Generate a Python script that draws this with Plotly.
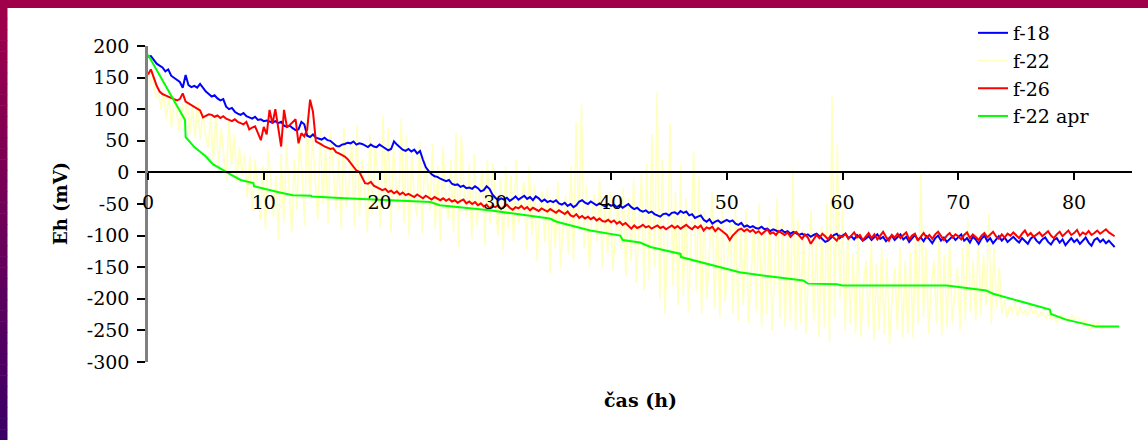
import plotly.graph_objects as go

STEP = 0.25  # h, sampling interval of the measured series

f18 = [183, 184, 178, 172, 169, 166, 160, 163, 153, 150, 146, 143, 134, 154, 138, 135, 137, 134, 140, 133,
       128, 124, 120, 122, 117, 114, 116, 104, 100, 102, 96, 93, 91, 94, 89, 87, 85, 88, 83, 84,
       81, 82, 80, 79, 81, 78, 80, 74, 72, 74, 70, 67, 68, 80, 76, 58, 56, 60, 55, 54,
       52, 55, 51, 50, 46, 42, 41, 44, 45, 47, 46, 49, 44, 46, 45, 42, 40, 44, 41, 40,
       44, 41, 38, 35, 37, 49, 44, 40, 36, 34, 37, 33, 36, 30, 34, 20, 8, 2, -3, -6,
       -7, -10, -12, -14, -12, -18, -20, -19, -23, -21, -25, -24, -26, -22, -25, -30, -28, -22, -26, -35,
       -40, -44, -41, -43, -40, -45, -42, -38, -43, -40, -37, -42, -39, -44, -38, -41, -46, -43, -47, -45,
       -47, -44, -49, -51, -48, -53, -50, -55, -52, -46, -44, -48, -50, -46, -49, -52, -49, -51, -54, -50,
       -53, -51, -55, -52, -56, -53, -50, -55, -58, -56, -60, -62, -60, -64, -62, -66, -68, -70, -66, -65,
       -68, -64, -63, -66, -61, -64, -62, -68, -66, -72, -70, -68, -75, -78, -74, -81, -78, -76, -80, -77,
       -75, -78, -76, -81, -83, -80, -86, -84, -87, -85, -88, -89, -86, -90, -89, -93, -90, -92, -94, -91,
       -95, -93, -97, -94, -96, -99, -97, -100, -98, -102, -99, -97, -101, -106, -110, -108, -103, -99, -97, -104,
       -100, -97, -104, -101, -106, -99, -103, -108, -105, -101, -107, -103, -98, -105, -102, -109, -104, -100, -107, -103,
       -98, -106, -102, -110, -104, -99, -107, -103, -109, -101, -106, -112, -104, -100, -108, -103, -110, -105, -101, -107,
       -103, -98, -108, -104, -111, -102, -106, -113, -105, -100, -109, -104, -112, -106, -101, -108, -103, -110, -106, -102,
       -107, -111, -104, -109, -113, -105, -101, -108, -112, -106, -103, -110, -114, -107, -104, -111, -106, -115, -109, -104,
       -110, -106, -113, -108, -103, -111, -116, -107, -104, -110, -106, -112, -108, -113, -118]

f26 = [155, 163, 150, 137, 128, 124, 122, 120, 119, 117, 114, 116, 125, 112, 109, 106, 103, 100, 98, 87,
       90, 92, 91, 88, 90, 86, 89, 85, 83, 81, 84, 80, 78, 76, 80, 68, 71, 73, 62, 51,
       72, 60, 99, 77, 100, 72, 41, 99, 72, 75, 80, 84, 46, 62, 57, 68, 115, 96, 49, 47,
       44, 41, 39, 37, 38, 32, 30, 28, 25, 21, 15, 9, 3, 1, -8, -17, -18, -15, -21, -23,
       -25, -28, -26, -31, -29, -33, -30, -35, -32, -36, -34, -37, -39, -35, -38, -41, -37, -40, -43, -39,
       -42, -44, -41, -45, -42, -46, -44, -48, -45, -43, -49, -46, -50, -47, -52, -49, -54, -51, -57, -53,
       -55, -52, -58, -54, -51, -56, -59, -55, -57, -53, -58, -55, -60, -56, -58, -61, -57, -60, -62, -58,
       -61, -64, -60, -63, -66, -62, -68, -70, -66, -72, -69, -73, -70, -74, -71, -76, -73, -77, -78, -75,
       -79, -76, -81, -78, -83, -80, -85, -89, -84, -88, -86, -83, -87, -85, -89, -86, -84, -88, -86, -90,
       -87, -84, -88, -85, -89, -86, -83, -87, -90, -85, -88, -84, -92, -87, -89, -86, -93, -88, -91, -95,
       -99, -107, -100, -95, -91, -89, -93, -90, -94, -91, -96, -93, -98, -94, -90, -97, -95, -99, -93, -96,
       -99, -95, -102, -97, -94, -100, -105, -98, -103, -113, -106, -99, -104, -97, -101, -106, -99, -103, -108, -100,
       -102, -97, -105, -100, -95, -103, -99, -107, -101, -96, -104, -98, -106, -100, -94, -102, -108, -99, -103, -97,
       -104, -99, -95, -106, -100, -97, -108, -102, -96, -103, -99, -105, -98, -94, -101, -107, -100, -96, -103, -98,
       -101, -106, -99, -95, -104, -98, -102, -107, -100, -96, -103, -99, -94, -101, -105, -98, -103, -97, -100, -95,
       -99, -104, -97, -92, -100, -96, -102, -98, -95, -101, -97, -93, -100, -104, -98, -94, -101, -97, -92, -99,
       -96, -91, -100, -95, -98, -93, -99, -96, -92, -97, -94, -90, -95, -98, -101]

f22 = [160, 140, 155, 118, 125, 100, 128, 85, 120, 70, 118, 95, 65, 110, 80, 115, 60, 105, 55, 112,
       52, 95, 60, 40, 88, 20, 92, 5, 70, 30, -12, 85, 10, 60, -15, 40, -5, 30, -40, 25,
       -60, 20, -20, -75, 10, -90, 35, -10, -70, -5, -107, 30, -80, 45, -30, -95, 20, -60, 50, 0,
       -85, 88, -40, 60, -10, -75, 70, -50, 40, -80, 65, 10, -60, 30, -90, 72, -55, -20, 50, -85,
       75, -70, 20, -30, -95, 60, -65, 45, 0, -88, 90, -50, 70, -95, 40, -20, -60, 85, -80, 57,
       -100, 30, -40, -70, 49, -97, 25, -10, -60, 45, -90, 10, -110, 40, -40, -75, 20, -95, 62, -118,
       57, -20, -70, 15, -105, 30, -85, -30, 5, -115, 20, -80, 14, -40, -100, -10, -123, 10, -90, -5,
       -110, 20, -80, -40, -15, -123, 10, -100, -20, -140, -60, -30, -110, -25, -160, -40, -120, -15, -150, -80,
       -35, -130, 10, -140, 80, -90, 107, -120, -20, -150, -70, -35, -110, -10, -150, -45, -130, -30, -155, -100,
       -50, -120, -25, -165, -40, -140, -10, -175, -80, -2, -187, 14, -171, 60, -150, 128, -200, 20, -224, -100,
       78, -180, -30, -210, 10, -195, -40, -220, -110, 33, -190, -7, -224, -60, -200, -130, -30, -215, -70, -230,
       -45, -205, -140, -80, -224, -55, -235, -90, -210, -60, -240, -150, -85, -220, -50, -245, -95, -225, -70, -250,
       -160, -40, -230, -80, -245, -100, -235, 4, -250, -75, -240, -90, -255, -150, -60, -235, -110, -261, -85, -245,
       -50, -269, 120, -230, 45, -200, -60, -250, -100, -240, -130, -255, -95, -260, -180, -140, -245, -110, -265, -145,
       -250, -120, -255, -135, -271, -200, -150, -250, -118, -262, -140, -255, -125, -261, -100, -240, 1, -230, -120, -255,
       -180, -140, -240, -95, -258, -130, -245, -110, -239, -190, -150, -250, -120, -235, -76, -220, -140, -235, -100, -225,
       -130, -210, -65, -240, -120, -215, -150, -224, -200, -230, -211, -222, -205, -228, -213, -224, -218, -226, -212, -224,
       -217, -229, -221, -225, -231, -220, -234, -227, -238, -230, -225, -233, -229, -236, -226, -232, -229, -235, -240, -232,
       -245, -250, -238, -244, -236, -248, -242, -246, -245]

apr_t = [0, 3.2, 3.25, 4.0, 5.0, 5.6, 7.2, 8.0, 9.1, 9.15, 11.2, 12.5, 14.1, 14.15, 17.0, 21.3, 24.4, 25.2,
         29.5, 34.7, 35.3, 38.2, 40.8, 41.0, 42.5, 43.4, 46.0, 46.05, 48.8, 51.1, 53.1, 56.6, 57.0, 59.5,
         60.0, 69.0, 72.4, 73.0, 77.9, 78.0, 79.3, 81.9, 83.9]
apr_v = [186, 83, 56, 40, 25, 13, -4, -12, -17, -22, -31, -36, -37, -38, -41, -44, -47, -52,
         -60, -73, -78, -92, -100, -107, -111, -118, -129, -134, -147, -158, -163, -171, -176, -177,
         -179, -179, -187, -192, -217, -224, -233, -244, -244]

x_ticks = [0, 10, 20, 30, 40, 50, 60, 70, 80]
y_ticks = [200, 150, 100, 50, 0, -50, -100, -150, -200, -250, -300]

def times(vals, step=STEP):
    return [i * step for i in range(len(vals))]

FONT = "DejaVu Serif"

fig = go.Figure()
fig.add_trace(go.Scatter(x=times(f22, 83.0 / (len(f22) - 1)), y=f22, name="f-22", mode="lines",
                         line=dict(color="#FFFFC0", width=1.6), legendrank=2))
fig.add_trace(go.Scatter(x=times(f18), y=f18, name="f-18", mode="lines",
                         line=dict(color="#0000FF", width=2), legendrank=1))
fig.add_trace(go.Scatter(x=times(f26), y=f26, name="f-26", mode="lines",
                         line=dict(color="#FF0000", width=2), legendrank=3))
fig.add_trace(go.Scatter(x=apr_t, y=apr_v, name="f-22 apr", mode="lines",
                         line=dict(color="#00FF00", width=2), legendrank=4))

W, H = 1148, 440
L, R, T, B = 148, 1132, 46, 362
def px(xp):
    return (xp - L) / (R - L)
def py(yp):
    return (B - yp) / (B - T)

shapes = []
shapes.append(dict(type="rect", xref="paper", yref="paper", x0=px(0), x1=px(W), y0=py(8), y1=py(0),
                   fillcolor="#A0004A", line=dict(width=0), layer="below"))
n = 40
c0 = (160, 0, 74)
c1 = (58, 0, 102)
for i in range(n):
    y0 = 8 + (H - 8) * i / n
    y1 = 8 + (H - 8) * (i + 1) / n
    f = (i + 0.5) / n
    c = tuple(int(round(c0[k] + (c1[k] - c0[k]) * f)) for k in range(3))
    shapes.append(dict(type="rect", xref="paper", yref="paper", x0=px(0), x1=px(7.5),
                       y0=py(y1 + 0.5), y1=py(y0), fillcolor="rgb(%d,%d,%d)" % c,
                       line=dict(width=0), layer="below"))

fig.update_layout(
    width=W, height=H,
    margin=dict(l=L, r=W - R, t=T, b=H - B, autoexpand=False),
    paper_bgcolor="white", plot_bgcolor="white",
    font=dict(family=FONT, size=19, color="black"),
    showlegend=True,
    legend=dict(x=px(973), y=py(14), xanchor="left", yanchor="top",
                bgcolor="rgba(0,0,0,0)", font=dict(family=FONT, size=19, color="black"),
                tracegroupgap=0, itemwidth=30),
    shapes=shapes,
    annotations=[
        dict(text="<b>Eh (mV)</b>", xref="paper", yref="paper", x=px(60), y=py(204),
             textangle=-90, showarrow=False, xanchor="center", yanchor="middle",
             font=dict(family=FONT, size=18, color="black")),
        dict(text="<b>čas (h)</b>", xref="paper", yref="paper", x=px(640), y=py(400),
             showarrow=False, xanchor="center", yanchor="middle",
             font=dict(family=FONT, size=19, color="black")),
    ],
)

fig.update_xaxes(range=[0, 85], tickvals=x_ticks, ticktext=[str(v) for v in x_ticks],
                 anchor="free", position=0.6, showline=True, linecolor="black", linewidth=1.5,
                 ticks="outside", ticklen=7, tickwidth=1.5, tickcolor="black",
                 showgrid=False, zeroline=False, ticklabelstandoff=6, automargin=False,
                 tickfont=dict(family=FONT, size=19, color="black"))
fig.update_yaxes(range=[-300, 200], tickvals=y_ticks, ticktext=[str(v) for v in y_ticks],
                 showline=True, linecolor="#808080", linewidth=2.5,
                 ticks="outside", ticklen=8, tickwidth=1.5, tickcolor="black",
                 showgrid=False, zeroline=False, ticklabelstandoff=4, automargin=False,
                 tickfont=dict(family=FONT, size=19, color="black"))

fig.write_html("out.html", config={"displayModeBar": False},
               post_script="document.body.style.margin='0';document.body.style.overflow='hidden';")
